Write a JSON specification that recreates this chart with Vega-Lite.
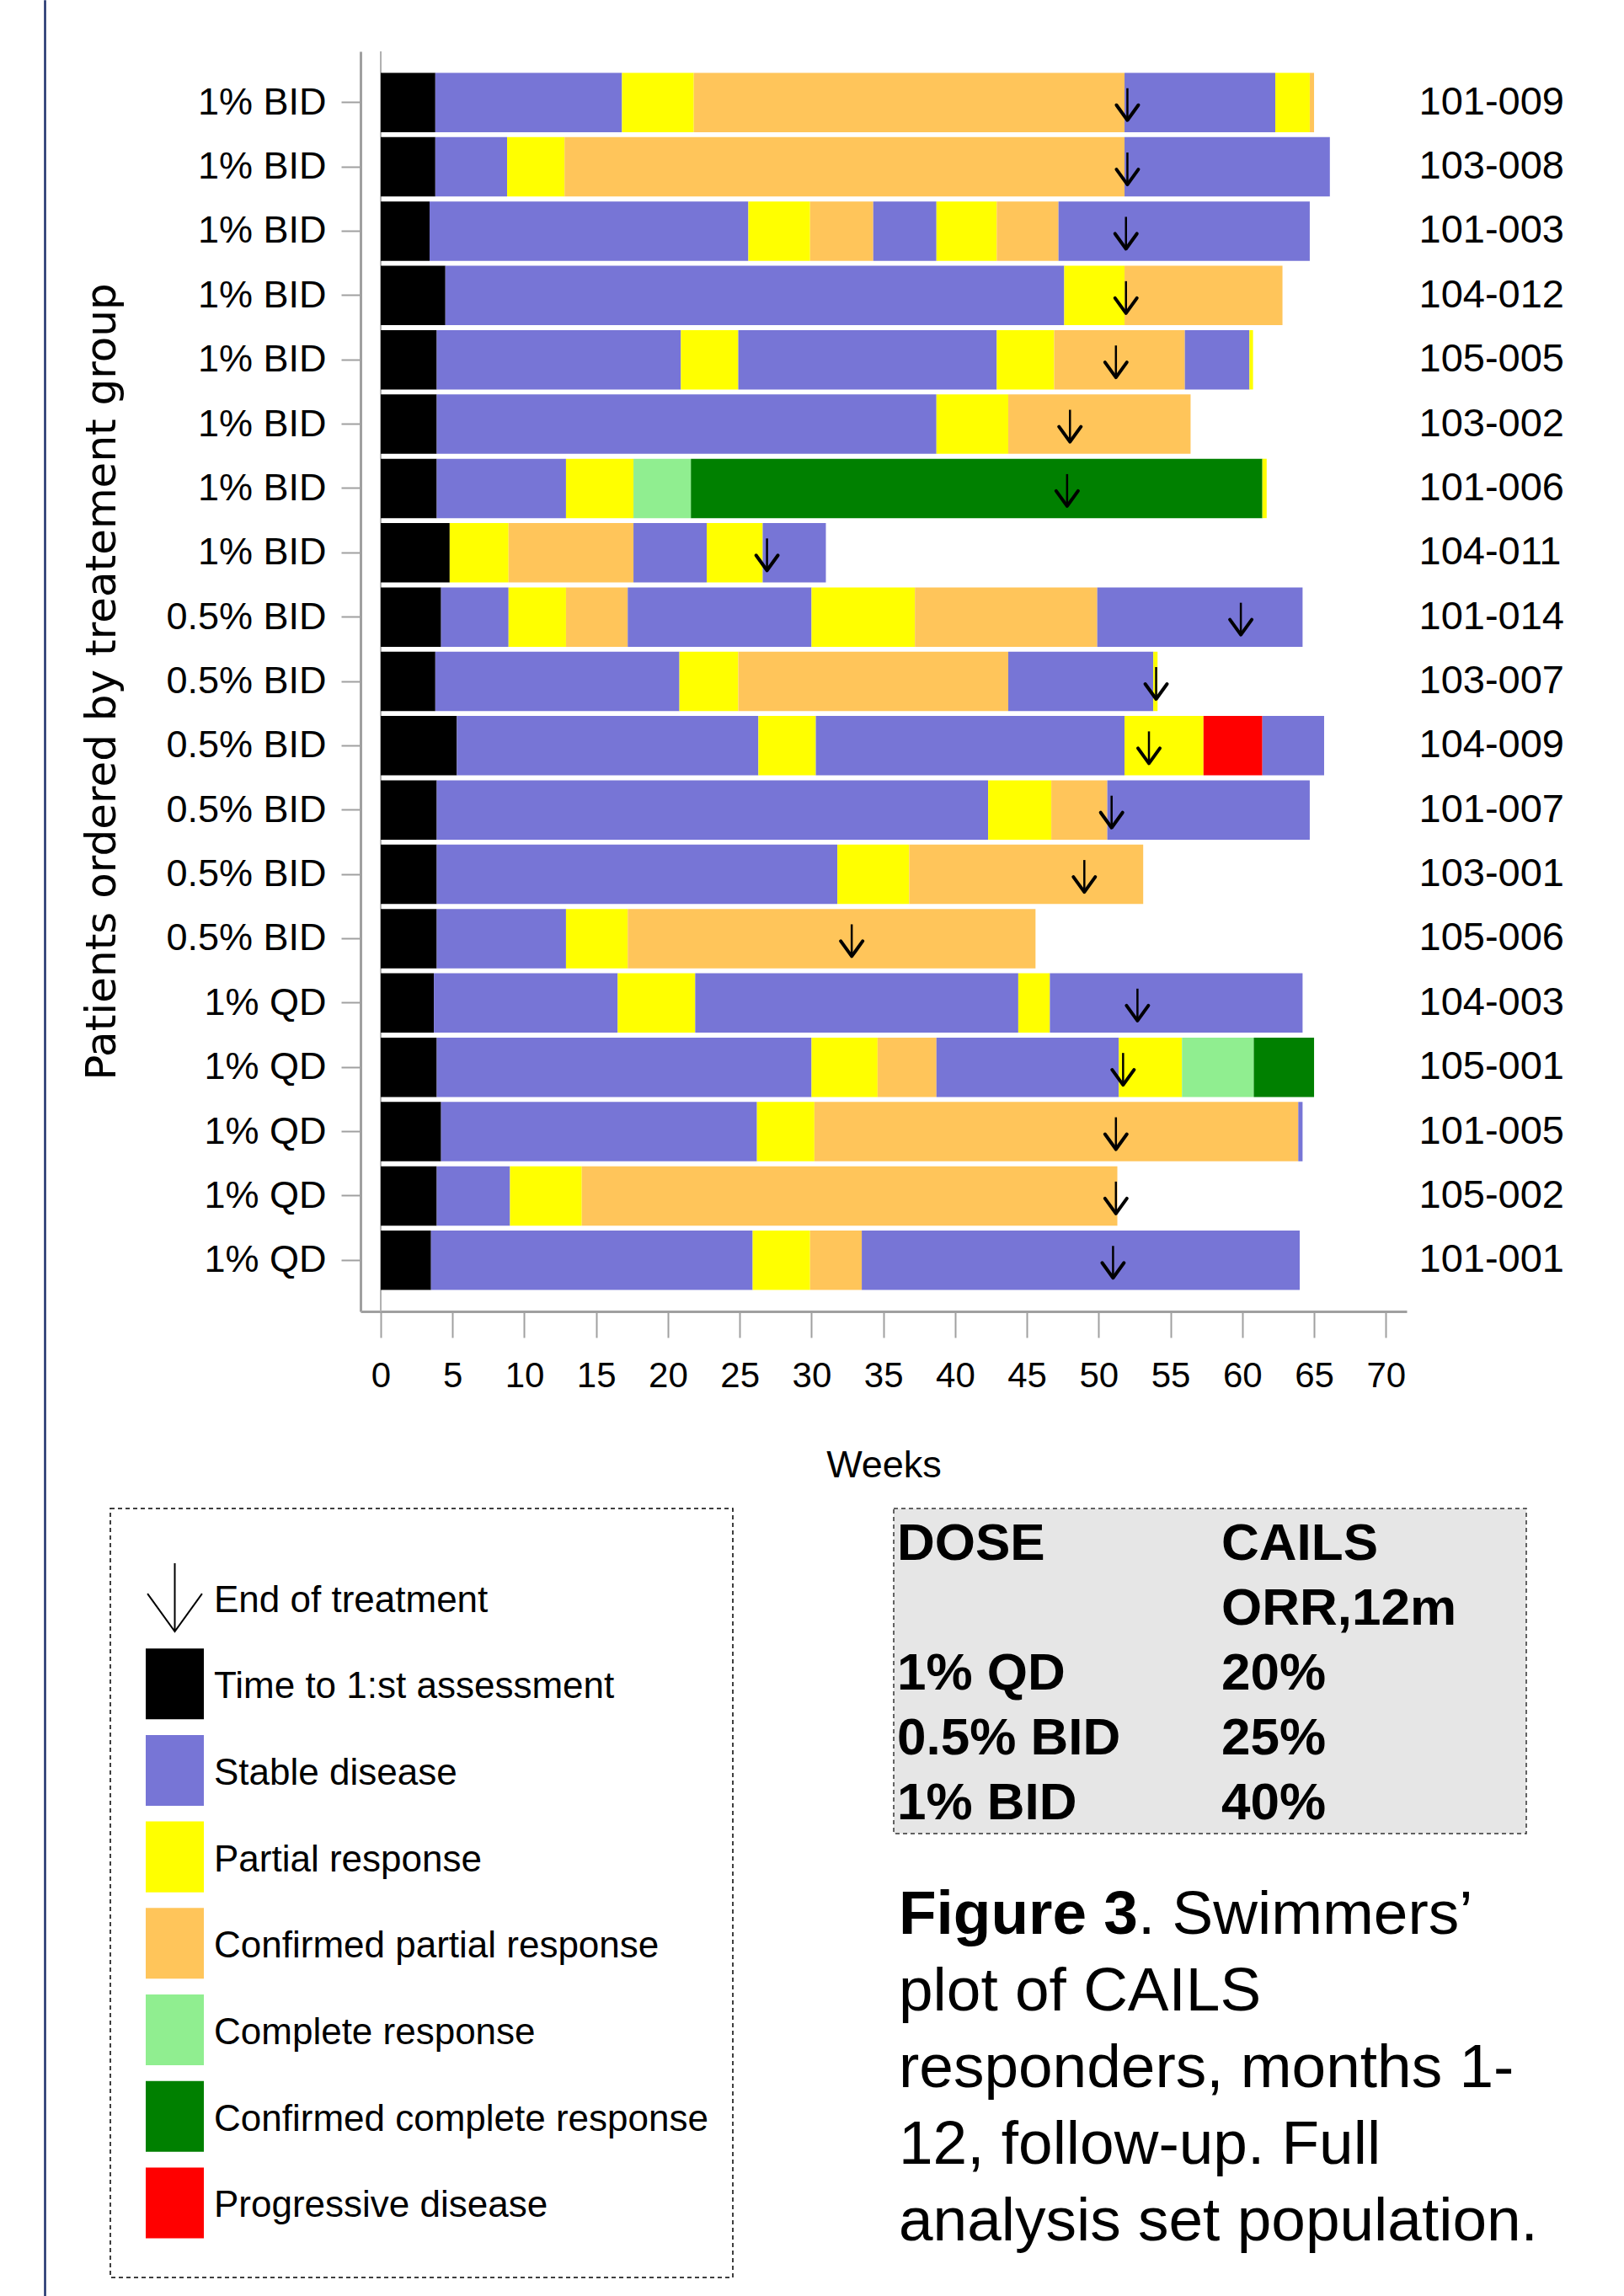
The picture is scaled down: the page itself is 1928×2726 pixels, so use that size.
{
  "$schema": "https://vega.github.io/schema/vega-lite/v6.json",
  "background": "white",
  "padding": {"left": 52, "top": 0, "right": 0, "bottom": 0},
  "config": {
    "font": "Liberation Sans",
    "view": {"stroke": null},
    "axis": {"labelColor": "#000000", "titleColor": "#000000", "grid": false}
  },
  "datasets": {
    "segments": [
      {"patient": "101-009", "dose": "1% BID", "state": "Time to 1:st assessment", "start": 0, "end": 3.8},
      {"patient": "101-009", "dose": "1% BID", "state": "Stable disease", "start": 3.8, "end": 16.8},
      {"patient": "101-009", "dose": "1% BID", "state": "Partial response", "start": 16.8, "end": 21.8},
      {"patient": "101-009", "dose": "1% BID", "state": "Confirmed partial response", "start": 21.8, "end": 51.8},
      {"patient": "101-009", "dose": "1% BID", "state": "Stable disease", "start": 51.8, "end": 62.3},
      {"patient": "101-009", "dose": "1% BID", "state": "Partial response", "start": 62.3, "end": 64.7},
      {"patient": "101-009", "dose": "1% BID", "state": "Confirmed partial response", "start": 64.7, "end": 65.0},
      {"patient": "103-008", "dose": "1% BID", "state": "Time to 1:st assessment", "start": 0, "end": 3.8},
      {"patient": "103-008", "dose": "1% BID", "state": "Stable disease", "start": 3.8, "end": 8.8},
      {"patient": "103-008", "dose": "1% BID", "state": "Partial response", "start": 8.8, "end": 12.8},
      {"patient": "103-008", "dose": "1% BID", "state": "Confirmed partial response", "start": 12.8, "end": 51.8},
      {"patient": "103-008", "dose": "1% BID", "state": "Stable disease", "start": 51.8, "end": 66.1},
      {"patient": "101-003", "dose": "1% BID", "state": "Time to 1:st assessment", "start": 0, "end": 3.4},
      {"patient": "101-003", "dose": "1% BID", "state": "Stable disease", "start": 3.4, "end": 25.6},
      {"patient": "101-003", "dose": "1% BID", "state": "Partial response", "start": 25.6, "end": 29.9},
      {"patient": "101-003", "dose": "1% BID", "state": "Confirmed partial response", "start": 29.9, "end": 34.3},
      {"patient": "101-003", "dose": "1% BID", "state": "Stable disease", "start": 34.3, "end": 38.7},
      {"patient": "101-003", "dose": "1% BID", "state": "Partial response", "start": 38.7, "end": 42.9},
      {"patient": "101-003", "dose": "1% BID", "state": "Confirmed partial response", "start": 42.9, "end": 47.2},
      {"patient": "101-003", "dose": "1% BID", "state": "Stable disease", "start": 47.2, "end": 64.7},
      {"patient": "104-012", "dose": "1% BID", "state": "Time to 1:st assessment", "start": 0, "end": 4.5},
      {"patient": "104-012", "dose": "1% BID", "state": "Stable disease", "start": 4.5, "end": 47.6},
      {"patient": "104-012", "dose": "1% BID", "state": "Partial response", "start": 47.6, "end": 51.8},
      {"patient": "104-012", "dose": "1% BID", "state": "Confirmed partial response", "start": 51.8, "end": 62.8},
      {"patient": "105-005", "dose": "1% BID", "state": "Time to 1:st assessment", "start": 0, "end": 3.9},
      {"patient": "105-005", "dose": "1% BID", "state": "Stable disease", "start": 3.9, "end": 20.9},
      {"patient": "105-005", "dose": "1% BID", "state": "Partial response", "start": 20.9, "end": 24.9},
      {"patient": "105-005", "dose": "1% BID", "state": "Stable disease", "start": 24.9, "end": 42.9},
      {"patient": "105-005", "dose": "1% BID", "state": "Partial response", "start": 42.9, "end": 46.9},
      {"patient": "105-005", "dose": "1% BID", "state": "Confirmed partial response", "start": 46.9, "end": 56.0},
      {"patient": "105-005", "dose": "1% BID", "state": "Stable disease", "start": 56.0, "end": 60.5},
      {"patient": "105-005", "dose": "1% BID", "state": "Partial response", "start": 60.5, "end": 60.75},
      {"patient": "103-002", "dose": "1% BID", "state": "Time to 1:st assessment", "start": 0, "end": 3.9},
      {"patient": "103-002", "dose": "1% BID", "state": "Stable disease", "start": 3.9, "end": 38.7},
      {"patient": "103-002", "dose": "1% BID", "state": "Partial response", "start": 38.7, "end": 43.7},
      {"patient": "103-002", "dose": "1% BID", "state": "Confirmed partial response", "start": 43.7, "end": 56.4},
      {"patient": "101-006", "dose": "1% BID", "state": "Time to 1:st assessment", "start": 0, "end": 3.9},
      {"patient": "101-006", "dose": "1% BID", "state": "Stable disease", "start": 3.9, "end": 12.9},
      {"patient": "101-006", "dose": "1% BID", "state": "Partial response", "start": 12.9, "end": 17.6},
      {"patient": "101-006", "dose": "1% BID", "state": "Complete response", "start": 17.6, "end": 21.6},
      {"patient": "101-006", "dose": "1% BID", "state": "Confirmed complete response", "start": 21.6, "end": 61.4},
      {"patient": "101-006", "dose": "1% BID", "state": "Partial response", "start": 61.4, "end": 61.7},
      {"patient": "104-011", "dose": "1% BID", "state": "Time to 1:st assessment", "start": 0, "end": 4.8},
      {"patient": "104-011", "dose": "1% BID", "state": "Partial response", "start": 4.8, "end": 8.9},
      {"patient": "104-011", "dose": "1% BID", "state": "Confirmed partial response", "start": 8.9, "end": 17.6},
      {"patient": "104-011", "dose": "1% BID", "state": "Stable disease", "start": 17.6, "end": 22.7},
      {"patient": "104-011", "dose": "1% BID", "state": "Partial response", "start": 22.7, "end": 26.6},
      {"patient": "104-011", "dose": "1% BID", "state": "Stable disease", "start": 26.6, "end": 31.0},
      {"patient": "101-014", "dose": "0.5% BID", "state": "Time to 1:st assessment", "start": 0, "end": 4.2},
      {"patient": "101-014", "dose": "0.5% BID", "state": "Stable disease", "start": 4.2, "end": 8.9},
      {"patient": "101-014", "dose": "0.5% BID", "state": "Partial response", "start": 8.9, "end": 12.9},
      {"patient": "101-014", "dose": "0.5% BID", "state": "Confirmed partial response", "start": 12.9, "end": 17.2},
      {"patient": "101-014", "dose": "0.5% BID", "state": "Stable disease", "start": 17.2, "end": 30.0},
      {"patient": "101-014", "dose": "0.5% BID", "state": "Partial response", "start": 30.0, "end": 37.2},
      {"patient": "101-014", "dose": "0.5% BID", "state": "Confirmed partial response", "start": 37.2, "end": 49.9},
      {"patient": "101-014", "dose": "0.5% BID", "state": "Stable disease", "start": 49.9, "end": 64.2},
      {"patient": "103-007", "dose": "0.5% BID", "state": "Time to 1:st assessment", "start": 0, "end": 3.8},
      {"patient": "103-007", "dose": "0.5% BID", "state": "Stable disease", "start": 3.8, "end": 20.8},
      {"patient": "103-007", "dose": "0.5% BID", "state": "Partial response", "start": 20.8, "end": 24.9},
      {"patient": "103-007", "dose": "0.5% BID", "state": "Confirmed partial response", "start": 24.9, "end": 43.7},
      {"patient": "103-007", "dose": "0.5% BID", "state": "Stable disease", "start": 43.7, "end": 53.8},
      {"patient": "103-007", "dose": "0.5% BID", "state": "Partial response", "start": 53.8, "end": 54.1},
      {"patient": "104-009", "dose": "0.5% BID", "state": "Time to 1:st assessment", "start": 0, "end": 5.3},
      {"patient": "104-009", "dose": "0.5% BID", "state": "Stable disease", "start": 5.3, "end": 26.3},
      {"patient": "104-009", "dose": "0.5% BID", "state": "Partial response", "start": 26.3, "end": 30.3},
      {"patient": "104-009", "dose": "0.5% BID", "state": "Stable disease", "start": 30.3, "end": 51.8},
      {"patient": "104-009", "dose": "0.5% BID", "state": "Partial response", "start": 51.8, "end": 57.3},
      {"patient": "104-009", "dose": "0.5% BID", "state": "Progressive disease", "start": 57.3, "end": 61.4},
      {"patient": "104-009", "dose": "0.5% BID", "state": "Stable disease", "start": 61.4, "end": 65.7},
      {"patient": "101-007", "dose": "0.5% BID", "state": "Time to 1:st assessment", "start": 0, "end": 3.9},
      {"patient": "101-007", "dose": "0.5% BID", "state": "Stable disease", "start": 3.9, "end": 42.3},
      {"patient": "101-007", "dose": "0.5% BID", "state": "Partial response", "start": 42.3, "end": 46.7},
      {"patient": "101-007", "dose": "0.5% BID", "state": "Confirmed partial response", "start": 46.7, "end": 50.6},
      {"patient": "101-007", "dose": "0.5% BID", "state": "Stable disease", "start": 50.6, "end": 64.7},
      {"patient": "103-001", "dose": "0.5% BID", "state": "Time to 1:st assessment", "start": 0, "end": 3.9},
      {"patient": "103-001", "dose": "0.5% BID", "state": "Stable disease", "start": 3.9, "end": 31.8},
      {"patient": "103-001", "dose": "0.5% BID", "state": "Partial response", "start": 31.8, "end": 36.8},
      {"patient": "103-001", "dose": "0.5% BID", "state": "Confirmed partial response", "start": 36.8, "end": 53.1},
      {"patient": "105-006", "dose": "0.5% BID", "state": "Time to 1:st assessment", "start": 0, "end": 3.9},
      {"patient": "105-006", "dose": "0.5% BID", "state": "Stable disease", "start": 3.9, "end": 12.9},
      {"patient": "105-006", "dose": "0.5% BID", "state": "Partial response", "start": 12.9, "end": 17.2},
      {"patient": "105-006", "dose": "0.5% BID", "state": "Confirmed partial response", "start": 17.2, "end": 45.6},
      {"patient": "104-003", "dose": "1% QD", "state": "Time to 1:st assessment", "start": 0, "end": 3.7},
      {"patient": "104-003", "dose": "1% QD", "state": "Stable disease", "start": 3.7, "end": 16.5},
      {"patient": "104-003", "dose": "1% QD", "state": "Partial response", "start": 16.5, "end": 21.9},
      {"patient": "104-003", "dose": "1% QD", "state": "Stable disease", "start": 21.9, "end": 44.4},
      {"patient": "104-003", "dose": "1% QD", "state": "Partial response", "start": 44.4, "end": 46.6},
      {"patient": "104-003", "dose": "1% QD", "state": "Stable disease", "start": 46.6, "end": 64.2},
      {"patient": "105-001", "dose": "1% QD", "state": "Time to 1:st assessment", "start": 0, "end": 3.9},
      {"patient": "105-001", "dose": "1% QD", "state": "Stable disease", "start": 3.9, "end": 30.0},
      {"patient": "105-001", "dose": "1% QD", "state": "Partial response", "start": 30.0, "end": 34.6},
      {"patient": "105-001", "dose": "1% QD", "state": "Confirmed partial response", "start": 34.6, "end": 38.7},
      {"patient": "105-001", "dose": "1% QD", "state": "Stable disease", "start": 38.7, "end": 51.4},
      {"patient": "105-001", "dose": "1% QD", "state": "Partial response", "start": 51.4, "end": 55.8},
      {"patient": "105-001", "dose": "1% QD", "state": "Complete response", "start": 55.8, "end": 60.8},
      {"patient": "105-001", "dose": "1% QD", "state": "Confirmed complete response", "start": 60.8, "end": 65.0},
      {"patient": "101-005", "dose": "1% QD", "state": "Time to 1:st assessment", "start": 0, "end": 4.2},
      {"patient": "101-005", "dose": "1% QD", "state": "Stable disease", "start": 4.2, "end": 26.2},
      {"patient": "101-005", "dose": "1% QD", "state": "Partial response", "start": 26.2, "end": 30.2},
      {"patient": "101-005", "dose": "1% QD", "state": "Confirmed partial response", "start": 30.2, "end": 63.9},
      {"patient": "101-005", "dose": "1% QD", "state": "Stable disease", "start": 63.9, "end": 64.2},
      {"patient": "105-002", "dose": "1% QD", "state": "Time to 1:st assessment", "start": 0, "end": 3.9},
      {"patient": "105-002", "dose": "1% QD", "state": "Stable disease", "start": 3.9, "end": 9.0},
      {"patient": "105-002", "dose": "1% QD", "state": "Partial response", "start": 9.0, "end": 14.0},
      {"patient": "105-002", "dose": "1% QD", "state": "Confirmed partial response", "start": 14.0, "end": 51.3},
      {"patient": "101-001", "dose": "1% QD", "state": "Time to 1:st assessment", "start": 0, "end": 3.5},
      {"patient": "101-001", "dose": "1% QD", "state": "Stable disease", "start": 3.5, "end": 25.9},
      {"patient": "101-001", "dose": "1% QD", "state": "Partial response", "start": 25.9, "end": 29.9},
      {"patient": "101-001", "dose": "1% QD", "state": "Confirmed partial response", "start": 29.9, "end": 33.5},
      {"patient": "101-001", "dose": "1% QD", "state": "Stable disease", "start": 33.5, "end": 64.0}
    ],
    "endOfTreatment": [
      {"patient": "101-009", "dose": "1% BID", "week": 52.0},
      {"patient": "103-008", "dose": "1% BID", "week": 52.0},
      {"patient": "101-003", "dose": "1% BID", "week": 51.9},
      {"patient": "104-012", "dose": "1% BID", "week": 51.9},
      {"patient": "105-005", "dose": "1% BID", "week": 51.2},
      {"patient": "103-002", "dose": "1% BID", "week": 48.0},
      {"patient": "101-006", "dose": "1% BID", "week": 47.8},
      {"patient": "104-011", "dose": "1% BID", "week": 26.9},
      {"patient": "101-014", "dose": "0.5% BID", "week": 59.9},
      {"patient": "103-007", "dose": "0.5% BID", "week": 54.0},
      {"patient": "104-009", "dose": "0.5% BID", "week": 53.5},
      {"patient": "101-007", "dose": "0.5% BID", "week": 50.9},
      {"patient": "103-001", "dose": "0.5% BID", "week": 49.0},
      {"patient": "105-006", "dose": "0.5% BID", "week": 32.8},
      {"patient": "104-003", "dose": "1% QD", "week": 52.7},
      {"patient": "105-001", "dose": "1% QD", "week": 51.7},
      {"patient": "101-005", "dose": "1% QD", "week": 51.2},
      {"patient": "105-002", "dose": "1% QD", "week": 51.2},
      {"patient": "101-001", "dose": "1% QD", "week": 51.0}
    ],
    "legendItems": [
      {"label": "End of treatment"},
      {"label": "Time to 1:st assessment"},
      {"label": "Stable disease"},
      {"label": "Partial response"},
      {"label": "Confirmed partial response"},
      {"label": "Complete response"},
      {"label": "Confirmed complete response"},
      {"label": "Progressive disease"}
    ],
    "orrTable": [
      {"dose": "DOSE", "cails": "CAILS"},
      {"dose": "", "cails": "ORR,12m"},
      {"dose": "1% QD", "cails": "20%"},
      {"dose": "0.5% BID", "cails": "25%"},
      {"dose": "1% BID", "cails": "40%"}
    ],
    "caption": [
      {"line": 1, "part": "figure", "text": "Figure 3"},
      {"line": 1, "part": "rest", "text": ". Swimmers’"},
      {"line": 2, "part": "rest", "text": "plot of CAILS"},
      {"line": 3, "part": "rest", "text": "responders, months 1-"},
      {"line": 4, "part": "rest", "text": "12, follow-up. Full"},
      {"line": 5, "part": "rest", "text": "analysis set population."}
    ]
  },
  "spacing": 6,
  "hconcat": [
    {
      "width": 1,
      "height": 2726,
      "data": {"values": []},
      "mark": "point",
      "view": {"stroke": "#1c2f6b", "strokeWidth": 1.5}
    },
    {
      "spacing": 28,
      "vconcat": [
        {"width": 1, "height": 31, "data": {"values": []}, "mark": "point"},
        {
          "spacing": 34,
          "hconcat": [
            {"width": 1, "height": 1, "data": {"values": []}, "mark": "point"},
            {
              "width": 1242,
              "height": 1496,
              "resolve": {"axis": {"y": "independent"}},
              "layer": [
                {
                  "data": {"values": [{"week": 0}]},
                  "mark": {"type": "rule", "color": "#b0b0b0", "strokeWidth": 2},
                  "encoding": {
                    "x": {"field": "week", "type": "quantitative", "title": "Weeks", "scale": {"domain": [-1.41, 71.45], "nice": false, "zero": false}}
                  }
                },
                {
                  "data": {"name": "segments"},
                  "transform": [{"calculate": "datum.dose + '|' + datum.patient", "as": "row"}],
                  "mark": {"type": "bar"},
                  "encoding": {
                    "y": {
                      "field": "row",
                      "type": "nominal",
                      "sort": null,
                      "scale": {"type": "band", "paddingInner": 0.077, "paddingOuter": 0.334},
                      "axis": {
                        "orient": "left",
                        "labelExpr": "split(datum.value, '|')[0]",
                        "title": "Patients ordered by treatement group",
                        "labelFont": "Liberation Sans",
                        "labelFontSize": 45,
                        "labelLimit": 0,
                        "labelPadding": 18,
                        "tickSize": 23,
                        "tickColor": "#a0a0a0",
                        "tickWidth": 2,
                        "domainColor": "#a0a0a0",
                        "domainWidth": 3,
                        "titleFont": "DejaVu Sans",
                        "titleFontSize": 50,
                        "titleFontWeight": "normal",
                        "titlePadding": 82
                      }
                    },
                    "x": {
                      "field": "start",
                      "type": "quantitative",
                      "title": "Weeks",
                      "scale": {"domain": [-1.41, 71.45], "nice": false, "zero": false},
                      "axis": {
                        "values": [0, 5, 10, 15, 20, 25, 30, 35, 40, 45, 50, 55, 60, 65, 70],
                        "format": "d",
                        "labelFont": "Liberation Sans",
                        "labelFontSize": 42,
                        "labelPadding": 25,
                        "labelFlush": false,
                        "labelOverlap": false,
                        "tickSize": 31,
                        "tickColor": "#a0a0a0",
                        "tickWidth": 2,
                        "domainColor": "#a0a0a0",
                        "domainWidth": 3,
                        "titleFont": "Liberation Sans",
                        "titleFontSize": 45,
                        "titleFontWeight": "normal",
                        "titlePadding": 63
                      }
                    },
                    "x2": {"field": "end"},
                    "color": {
                      "field": "state",
                      "type": "nominal",
                      "scale": {
                        "domain": ["Time to 1:st assessment", "Stable disease", "Partial response", "Confirmed partial response", "Complete response", "Confirmed complete response", "Progressive disease"],
                        "range": ["#000000", "#7775D6", "#FFFF00", "#FFC55A", "#90EE90", "#008000", "#FF0000"]
                      },
                      "legend": null
                    }
                  }
                },
                {
                  "data": {"name": "endOfTreatment"},
                  "transform": [{"calculate": "datum.dose + '|' + datum.patient", "as": "row"}],
                  "mark": {
                    "type": "point",
                    "shape": "M0,-0.85L0,1.05",
                    "size": 1600,
                    "filled": false,
                    "stroke": "#000000",
                    "strokeWidth": 2.5,
                    "opacity": 1
                  },
                  "encoding": {
                    "y": {
                      "field": "row",
                      "type": "nominal",
                      "sort": null,
                      "axis": {
                        "orient": "right",
                        "labelExpr": "split(datum.value, '|')[1]",
                        "title": null,
                        "domain": false,
                        "ticks": false,
                        "labelPadding": 14,
                        "labelAlign": "left",
                        "labelLimit": 0,
                        "labelFont": "Liberation Sans",
                        "labelFontSize": 47
                      }
                    },
                    "x": {"field": "week", "type": "quantitative", "title": "Weeks", "scale": {"domain": [-1.41, 71.45], "nice": false, "zero": false}}
                  }
                },
                {
                  "data": {"name": "endOfTreatment"},
                  "transform": [{"calculate": "datum.dose + '|' + datum.patient", "as": "row"}],
                  "mark": {
                    "type": "point",
                    "shape": "M-0.65,0.15L0,1.05L0.65,0.15",
                    "size": 1600,
                    "filled": false,
                    "stroke": "#000000",
                    "strokeWidth": 4,
                    "strokeJoin": "round",
                    "strokeCap": "round",
                    "opacity": 1
                  },
                  "encoding": {
                    "y": {"field": "row", "type": "nominal", "sort": null, "axis": null},
                    "x": {"field": "week", "type": "quantitative", "title": "Weeks", "scale": {"domain": [-1.41, 71.45], "nice": false, "zero": false}}
                  }
                }
              ]
            }
          ]
        },
        {
          "spacing": 68,
          "hconcat": [
            {"width": 1, "height": 1, "data": {"values": []}, "mark": "point"},
            {
              "spacing": 189,
              "hconcat": [
                {
                  "width": 739,
                  "height": 913,
                  "view": {"stroke": "#000000", "strokeWidth": 1.5, "strokeDash": [5, 4], "fill": "white"},
                  "data": {"name": "legendItems"},
                  "encoding": {
                    "y": {
                      "field": "label",
                      "type": "nominal",
                      "sort": null,
                      "scale": {"type": "band", "paddingInner": 0.182, "paddingOuter": 0.536, "align": 0.577},
                      "axis": null
                    }
                  },
                  "layer": [
                    {
                      "mark": {
                        "type": "text",
                        "align": "left",
                        "baseline": "middle",
                        "dx": 12,
                        "dy": 4,
                        "font": "Liberation Sans",
                        "fontSize": 44,
                        "color": "#000000"
                      },
                      "encoding": {
                        "x": {
                          "datum": "swatch",
                          "type": "nominal",
                          "bandPosition": 1,
                          "scale": {"type": "band", "domain": ["swatch"], "paddingInner": 0.8, "paddingOuter": 0.971, "align": 0.0627},
                          "axis": null
                        },
                        "text": {"field": "label"}
                      }
                    },
                    {
                      "transform": [{"filter": "datum.label != 'End of treatment'"}],
                      "mark": {"type": "bar"},
                      "encoding": {
                        "x": {"datum": "swatch", "type": "nominal"},
                        "color": {
                          "field": "label",
                          "type": "nominal",
                          "scale": {
                            "domain": ["Time to 1:st assessment", "Stable disease", "Partial response", "Confirmed partial response", "Complete response", "Confirmed complete response", "Progressive disease"],
                            "range": ["#000000", "#7775D6", "#FFFF00", "#FFC55A", "#90EE90", "#008000", "#FF0000"]
                          },
                          "legend": null
                        }
                      }
                    },
                    {
                      "transform": [{"filter": "datum.label == 'End of treatment'"}],
                      "mark": {
                        "type": "point",
                        "shape": "M0,-1L0,1M-0.8,-0.11L0,1L0.8,-0.11",
                        "size": 6561,
                        "filled": false,
                        "stroke": "#000000",
                        "strokeWidth": 2,
                        "opacity": 1
                      },
                      "encoding": {"x": {"datum": "swatch", "type": "nominal"}}
                    }
                  ]
                },
                {
                  "spacing": 50,
                  "vconcat": [
                    {
                      "width": 751,
                      "height": 386,
                      "view": {"fill": "#e6e6e6", "stroke": "#333333", "strokeWidth": 1.5, "strokeDash": [5, 4]},
                      "data": {"name": "orrTable"},
                      "transform": [{"fold": ["dose", "cails"], "as": ["column", "value"]}],
                      "mark": {
                        "type": "text",
                        "align": "left",
                        "baseline": "alphabetic",
                        "dx": 4,
                        "dy": 22,
                        "font": "Liberation Sans",
                        "fontSize": 62,
                        "fontWeight": "bold",
                        "color": "#000000"
                      },
                      "encoding": {
                        "x": {
                          "field": "column",
                          "type": "nominal",
                          "sort": ["dose", "cails"],
                          "bandPosition": 0,
                          "scale": {"type": "band", "paddingInner": 0.0494, "paddingOuter": 0},
                          "axis": null
                        },
                        "y": {
                          "field": "cails",
                          "type": "nominal",
                          "sort": null,
                          "scale": {"type": "band", "paddingInner": 0, "paddingOuter": 0},
                          "axis": null
                        },
                        "text": {"field": "value"}
                      }
                    },
                    {
                      "width": 860,
                      "height": 456,
                      "data": {"name": "caption"},
                      "encoding": {
                        "y": {
                          "field": "line",
                          "type": "ordinal",
                          "scale": {"type": "band", "paddingInner": 0, "paddingOuter": 0},
                          "axis": null
                        },
                        "x": {"datum": 0, "type": "quantitative", "scale": {"domain": [0, 1]}, "axis": null},
                        "text": {"field": "text"}
                      },
                      "layer": [
                        {
                          "transform": [{"filter": "datum.part == 'figure'"}],
                          "mark": {"type": "text", "align": "left", "baseline": "alphabetic", "dx": 6, "dy": 22, "font": "Liberation Sans", "fontSize": 73, "fontWeight": "bold", "color": "#000000"}
                        },
                        {
                          "transform": [{"filter": "datum.part == 'rest' && datum.line == 1"}],
                          "mark": {"type": "text", "align": "left", "baseline": "alphabetic", "dx": 290, "dy": 22, "font": "Liberation Sans", "fontSize": 73, "color": "#000000"}
                        },
                        {
                          "transform": [{"filter": "datum.line > 1"}],
                          "mark": {"type": "text", "align": "left", "baseline": "alphabetic", "dx": 6, "dy": 22, "font": "Liberation Sans", "fontSize": 73, "color": "#000000"}
                        }
                      ]
                    }
                  ]
                }
              ]
            }
          ]
        }
      ]
    }
  ]
}
